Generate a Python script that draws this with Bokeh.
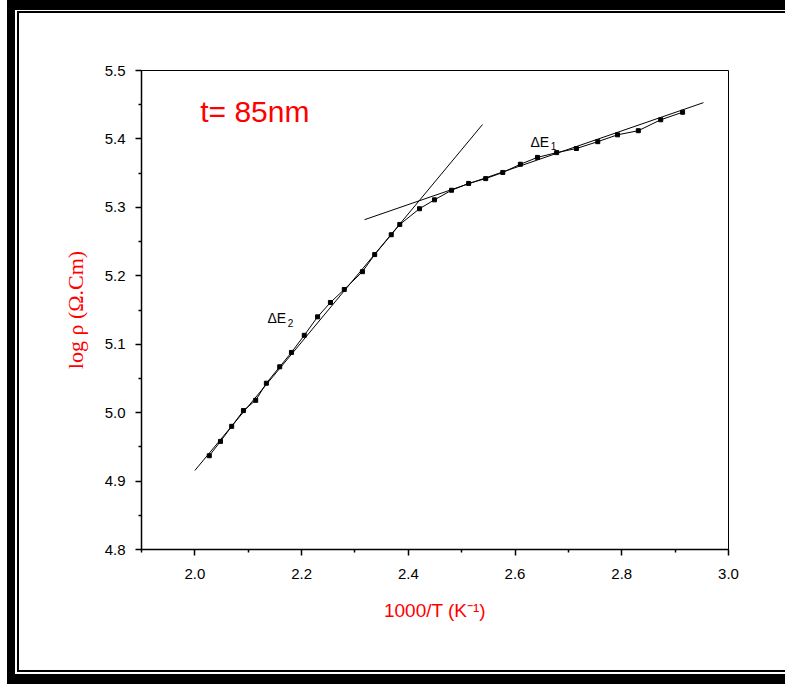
from bokeh.plotting import figure
from bokeh.models import Label, FixedTicker, CustomJSTickFormatter
from bokeh.embed import file_html
from bokeh.resources import INLINE

# measured data (1000/T, log rho)
inv_T = [2.027, 2.048, 2.069, 2.091, 2.114, 2.134, 2.159, 2.181, 2.205, 2.230,
         2.254, 2.280, 2.314, 2.337, 2.368, 2.384, 2.421, 2.449, 2.481, 2.513,
         2.545, 2.577, 2.610, 2.642, 2.678, 2.715, 2.755, 2.792, 2.831, 2.873, 2.914]
log_rho = [4.937, 4.958, 4.980, 5.003, 5.018, 5.043, 5.067, 5.088, 5.113, 5.140,
           5.161, 5.180, 5.206, 5.231, 5.260, 5.275, 5.298, 5.311, 5.325, 5.335,
           5.342, 5.351, 5.363, 5.373, 5.380, 5.386, 5.396, 5.406, 5.412, 5.428, 5.439]

# linear fits (endpoints)
fit2_x = [2.000, 2.539]
fit2_y = [4.9155, 5.421]
fit1_x = [2.318, 2.953]
fit1_y = [5.282, 5.453]

x_ticks = [2.0, 2.2, 2.4, 2.6, 2.8, 3.0]
x_minor = [1.9, 2.1, 2.3, 2.5, 2.7, 2.9]
y_ticks = [4.8, 4.9, 5.0, 5.1, 5.2, 5.3, 5.4, 5.5]
y_minor = [4.85, 4.95, 5.05, 5.15, 5.25, 5.35, 5.45]

p = figure(width=785, height=684, output_backend="svg", toolbar_location=None,
           x_range=(1.9, 3.0), y_range=(4.8, 5.5),
           min_border_left=141, min_border_right=57, min_border_top=70, min_border_bottom=135)
p.grid.visible = False
p.outline_line_color = "black"
p.outline_line_width = 1
p.background_fill_color = "white"
p.border_fill_color = None

# page frame (thick + thin lines on left, top, bottom)
p.styles = {
    "box-shadow": ", ".join([
        "inset 7px 0 0 0 white",
        "inset 0 10px 0 0 black",
        "inset 0 -10px 0 0 black",
        "inset 15px 0 0 0 black",
        "inset 0 11px 0 0 white",
        "inset 0 -12px 0 0 white",
        "inset 17px 0 0 0 white",
        "inset 0 13px 0 0 black",
        "inset 0 -14px 0 0 black",
        "inset 19px 0 0 0 black",
    ]),
    "background-color": "white",
}

p.xaxis.ticker = FixedTicker(ticks=x_ticks, minor_ticks=x_minor)
p.yaxis.ticker = FixedTicker(ticks=y_ticks, minor_ticks=y_minor)
for ax in (p.xaxis, p.yaxis):
    ax.axis_line_color = "black"
    ax.axis_line_width = 1.5
    ax.major_tick_line_color = "black"
    ax.minor_tick_line_color = "black"
    ax.major_tick_line_width = 1.5
    ax.minor_tick_line_width = 1.5
    ax.major_tick_out = 6
    ax.major_tick_in = 0
    ax.minor_tick_out = 3
    ax.minor_tick_in = 0
    ax.major_label_text_font = "Liberation Sans"
    ax.major_label_text_font_size = "15px"
    ax.major_label_text_color = "black"
    ax.formatter = CustomJSTickFormatter(code="return tick.toFixed(1);")
p.xaxis.major_label_standoff = 13
p.yaxis.major_label_standoff = 10

p.xaxis.axis_label = "1000/T (K\u207B\u00B9)"
p.xaxis.axis_label_text_font = "Liberation Sans"
p.xaxis.axis_label_text_font_style = "normal"
p.xaxis.axis_label_text_font_size = "19px"
p.xaxis.axis_label_text_color = "red"
p.xaxis.axis_label_standoff = 18

p.yaxis.axis_label = "log \u03C1 (\u03A9.Cm)"
p.yaxis.axis_label_text_font = "Liberation Serif"
p.yaxis.axis_label_text_font_style = "normal"
p.yaxis.axis_label_text_font_size = "22px"
p.yaxis.axis_label_text_color = "red"
p.yaxis.axis_label_standoff = 14

p.line(fit2_x, fit2_y, line_color="black", line_width=1)
p.line(fit1_x, fit1_y, line_color="black", line_width=1)
p.line(inv_T, log_rho, line_color="black", line_width=1)
p.scatter(inv_T, log_rho, marker="square", size=4, fill_color="black", line_color="black")

p.add_layout(Label(x=2.010, y=5.44, text="t= 85nm", text_color="red",
                   text_font="Liberation Sans", text_font_size="30px",
                   text_align="left", text_baseline="middle"))
p.add_layout(Label(x=2.629, y=5.396, text="\u0394E", text_color="black",
                   text_font="Liberation Sans", text_font_size="14px",
                   text_align="left", text_baseline="middle"))
p.add_layout(Label(x=2.667, y=5.389, text="1", text_color="black",
                   text_font="Liberation Sans", text_font_size="10px",
                   text_align="left", text_baseline="middle"))
p.add_layout(Label(x=2.136, y=5.138, text="\u0394E", text_color="black",
                   text_font="Liberation Sans", text_font_size="14px",
                   text_align="left", text_baseline="middle"))
p.add_layout(Label(x=2.174, y=5.131, text="2", text_color="black",
                   text_font="Liberation Sans", text_font_size="10px",
                   text_align="left", text_baseline="middle"))

open("out.html", "w").write(file_html(p, INLINE))
